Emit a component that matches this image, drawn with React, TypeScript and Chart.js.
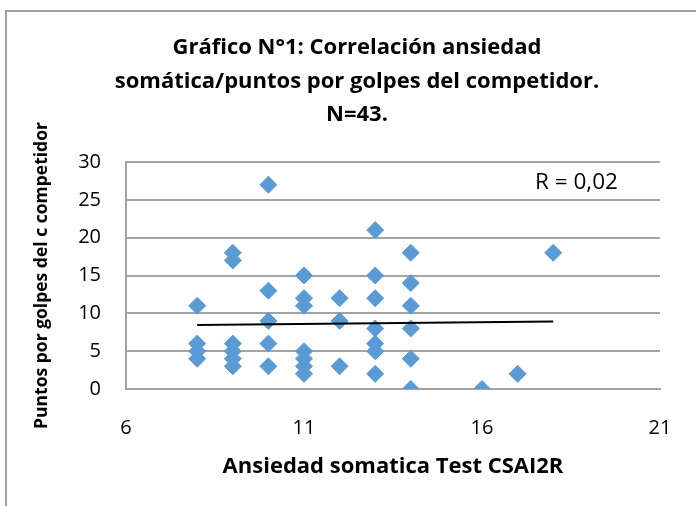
import React, { useEffect, useRef } from "react";
import { Chart, registerables } from "chart.js";

Chart.register(...registerables);

// Ansiedad somática (x) and puntos por golpes (y), one entry per competitor
const ansiedad = [
  8, 8, 8, 8,
  9, 9, 9, 9, 9, 9,
  10, 10, 10, 10, 10,
  11, 11, 11, 11, 11, 11, 11,
  12, 12, 12,
  13, 13, 13, 13, 13, 13, 13,
  14, 14, 14, 14, 14, 14,
  16, 17, 18,
];
const puntos = [
  11, 6, 5, 4,
  18, 17, 6, 5, 4, 3,
  27, 13, 9, 6, 3,
  15, 12, 11, 5, 4, 3, 2,
  12, 9, 3,
  21, 15, 12, 8, 6, 5, 2,
  18, 14, 11, 8, 4, 0,
  0, 2, 18,
];

// Linear trend line end points
const trendX = [8, 18];
const trendY = [8.45, 8.93];

const xTicks = [6, 11, 16, 21];
const yTicks = [0, 5, 10, 15, 20, 25, 30];

const titleLines = [
  "Gráfico N°1: Correlación ansiedad",
  "somática/puntos por golpes del competidor.",
  "N=43.",
];
const xTitle = "Ansiedad somatica Test CSAI2R";
const yTitle = "Puntos por golpes del c competidor";
const rLabel = "R = 0,02";

const FONT = "'Open Sans'";
const GRID = "#a3a3a3";
const MARKER = "#5B9BD5";

const rLabelPlugin = {
  id: "rLabel",
  afterDraw(chart: any) {
    const { ctx, chartArea } = chart;
    ctx.save();
    ctx.font = `22.5px ${FONT}`;
    ctx.fillStyle = "#000";
    ctx.textBaseline = "middle";
    ctx.textAlign = "left";
    ctx.fillText(rLabel, chartArea.right - 125, chartArea.top + 21);
    ctx.restore();
  },
};

export default function App() {
  const ref = useRef<HTMLCanvasElement>(null);

  useEffect(() => {
    if (!ref.current) return;
    Chart.defaults.font.family = FONT;
    Chart.defaults.color = "#000";
    const points = ansiedad.map((x, i) => ({ x, y: puntos[i] }));
    const trend = trendX.map((x, i) => ({ x, y: trendY[i] }));
    const chart = new Chart(ref.current, {
      type: "scatter",
      data: {
        datasets: [
          {
            type: "line",
            data: trend,
            borderColor: "#000",
            borderWidth: 2,
            pointRadius: 0,
            fill: false,
            order: 0,
          } as any,
          {
            data: points,
            pointStyle: "rectRot",
            pointRadius: 8.5,
            backgroundColor: MARKER,
            borderColor: MARKER,
            borderWidth: 1,
            order: 1,
          },
        ],
      },
      options: {
        responsive: false,
        animation: false,
        devicePixelRatio: 1,
        layout: { padding: { left: 0, right: 0, top: 0, bottom: 26.4 } },
        plugins: {
          legend: { display: false },
          tooltip: { enabled: false },
          title: {
            display: true,
            text: titleLines,
            color: "#000",
            font: { family: FONT, size: 22, weight: "bold", lineHeight: 1.523 },
            padding: { top: 21.25, bottom: 30.25 },
          },
        },
        scales: {
          x: {
            type: "linear",
            min: 6,
            max: 21,
            afterBuildTicks: (s: any) => {
              s.ticks = xTicks.map((v) => ({ value: v }));
            },
            afterFit: (s: any) => {
              s.height = 90.6;
            },
            grid: { display: false, drawTicks: false },
            border: { display: true, color: GRID, width: 2 },
            ticks: { padding: 27, font: { size: 20 }, color: "#000" },
            title: {
              display: true,
              text: xTitle,
              color: "#000",
              font: { size: 22, weight: "bold" },
              padding: { top: 0, bottom: 0 },
            },
          },
          y: {
            type: "linear",
            min: 0,
            max: 30,
            afterBuildTicks: (s: any) => {
              s.ticks = yTicks.map((v) => ({ value: v }));
            },
            afterFit: (s: any) => {
              s.width = 120;
            },
            grid: { color: GRID, lineWidth: 2, drawTicks: false },
            border: { display: true, color: GRID, width: 2 },
            ticks: { padding: 25, font: { size: 20 }, color: "#000" },
            title: {
              display: true,
              text: yTitle,
              color: "#000",
              font: { size: 17.5, weight: "bold" },
              padding: { top: 26, bottom: 0 },
            },
          },
          yRight: {
            type: "linear",
            position: "right",
            display: true,
            min: 0,
            max: 30,
            afterFit: (s: any) => {
              s.width = 48;
            },
            grid: { display: false, drawTicks: false },
            border: { display: false },
            ticks: { display: false },
          },
        },
      },
      plugins: [rLabelPlugin],
    } as any);
    return () => chart.destroy();
  }, []);

  return (
    <div
      style={{
        position: "fixed",
        left: 0,
        top: 0,
        width: 696,
        height: 506,
        overflow: "hidden",
        background: "#fff",
      }}
    >
      <div
        style={{
          position: "absolute",
          left: 5,
          top: 10,
          width: 720,
          height: 520,
          borderLeft: "2px solid #a0a0a0",
          borderTop: "2px solid #a0a0a0",
        }}
      />
      <canvas
        ref={ref}
        width={702}
        height={496}
        style={{ position: "absolute", left: 6, top: 10, width: 702, height: 496 }}
      />
    </div>
  );
}
